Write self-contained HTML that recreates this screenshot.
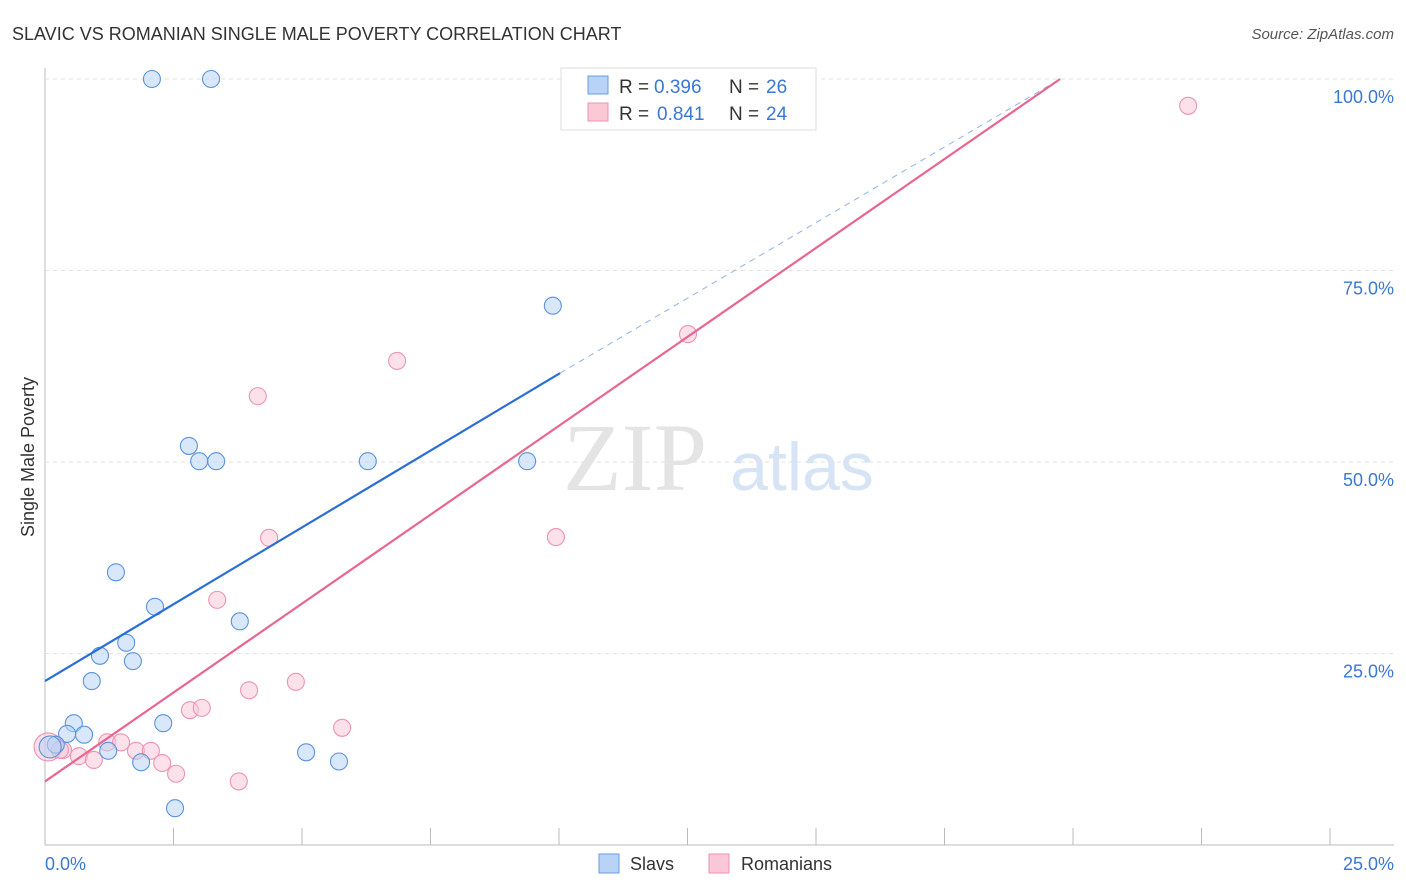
<!DOCTYPE html>
<html><head><meta charset="utf-8"><style>
body{margin:0;background:#fff;font-family:"Liberation Sans",sans-serif;}
svg{display:block}
</style></head><body>
<svg id="chart" width="1406" height="892">
<text x="12" y="40" font-size="18" fill="#333">SLAVIC VS ROMANIAN SINGLE MALE POVERTY CORRELATION CHART</text>
<text x="1394" y="39" font-size="15" fill="#555" font-style="italic" text-anchor="end">Source: ZipAtlas.com</text>
<text x="635" y="490" font-size="96" fill="#e4e4e4" font-family="Liberation Serif,serif" text-anchor="middle">ZIP</text>
<text x="802" y="490" font-size="68" fill="#d6e4f6" text-anchor="middle">atlas</text>
<g id="grid"></g>
<g id="marks"></g>
<text transform="translate(34,457) rotate(-90)" font-size="18" fill="#333" text-anchor="middle">Single Male Poverty</text>
<text x="45" y="870" font-size="18" fill="#3a78d4">0.0%</text>
<text x="1394" y="870" font-size="18" fill="#3a78d4" text-anchor="end">25.0%</text>
<g>
<rect x="561" y="68" width="255" height="62" fill="#fff" stroke="#ddd"/>
<rect x="588" y="76" width="20" height="18" fill="#b8d3f5" stroke="#6a9de0"/>
<rect x="588" y="103" width="20" height="18" fill="#fbc8d8" stroke="#ec93b0"/>
<text x="619" y="93" font-size="19" fill="#333">R =</text><text x="654" y="93" font-size="19" fill="#3a78d4">0.396</text>
<text x="729" y="93" font-size="19" fill="#333">N =</text><text x="766" y="93" font-size="19" fill="#3a78d4">26</text>
<text x="619" y="120" font-size="19" fill="#333">R =</text><text x="657" y="120" font-size="19" fill="#3a78d4">0.841</text>
<text x="729" y="120" font-size="19" fill="#333">N =</text><text x="766" y="120" font-size="19" fill="#3a78d4">24</text>
</g>
<g>
<rect x="599" y="854" width="20" height="19" fill="#b8d3f5" stroke="#6a9de0"/>
<text x="630" y="870" font-size="18" fill="#333">Slavs</text>
<rect x="709" y="854" width="20" height="19" fill="#fbc8d8" stroke="#ec93b0"/>
<text x="741" y="870" font-size="18" fill="#333">Romanians</text>
</g>
</svg>
<script>
const yTicks=[25,50,75,100];
const xTicks=[0,2.5,5,7.5,10,12.5,15,17.5,20,22.5,25];
const slavX=[2.08,3.23,9.88,2.80,3.00,3.33,6.28,9.38,1.38,2.14,3.79,1.58,1.07,1.71,0.91,0.56,2.30,0.43,0.76,0.21,1.23,5.08,1.87,5.72,2.53,0.10];
const slavY=[100,100,70.4,52.1,50.1,50.1,50.1,50.1,35.6,31.1,29.2,26.4,24.7,24.0,21.4,15.9,15.9,14.5,14.4,13.1,12.3,12.1,10.8,10.9,4.8,12.8];
const romX=[22.24,12.51,6.85,4.14,4.36,9.94,3.35,3.97,4.88,5.78,2.82,3.05,1.21,1.48,0.35,0.66,0.95,1.77,2.06,2.28,2.55,3.77,0.06,0.29];
const romY=[96.5,66.7,63.2,58.6,40.1,40.2,32.0,20.2,21.3,15.3,17.6,17.9,13.4,13.4,12.4,11.6,11.1,12.3,12.3,10.7,9.3,8.3,12.8,12.4];
const slavLine=[[0,21.4],[10.02,61.6]], slavDash=[[10.02,61.6],[19.75,100]];
const romLine=[[0,8.3],[19.75,100]];
const X=v=>45+v/25*1285, Y=v=>845-v/100*766;
const NS='http://www.w3.org/2000/svg';
const grid=document.getElementById('grid'), marks=document.getElementById('marks');
function mk(t,a,p){const e=document.createElementNS(NS,t);for(const k in a)e.setAttribute(k,a[k]);p.appendChild(e);return e;}
let ax=mk('line',{x1:45,y1:68,x2:45,y2:845,stroke:'#bbb'},grid);


let bx=mk('line',{x1:45,y1:845,x2:1394,y2:845,stroke:'#bbb'},grid);


yTicks.forEach(t=>{
 let g=mk('line',{x1:45,x2:1394,y1:Y(t),y2:Y(t),stroke:'#e2e2e2','stroke-dasharray':'4,4'},grid);
 
 
 let l=mk('text',{x:1394,y:Y(t)+24,'font-size':18,fill:'#3a78d4','text-anchor':'end'},grid);
 l.textContent=t.toFixed(1)+'%';
 
 
});
xTicks.forEach(t=>{
 let g=mk('line',{x1:X(t),x2:X(t),y1:828,y2:845,stroke:'#bbb'},grid);
 
 
});
function pts(xs,ys,fill,stroke,name,bigIdx,bigR){xs.forEach((x,i)=>{
 const big=(i===bigIdx);
 let c=mk('circle',{cx:X(x),cy:Y(ys[i]),r:big?bigR:8.5,fill:fill,'fill-opacity':0.55,stroke:stroke,'stroke-width':1.1},marks);
 
 
});}
pts(romX,romY,'#fbc8d8','#ec93b0','romanian-point',22,14);
pts(slavX,slavY,'#b8d3f5','#5b93dc','slav-point',25,11);
function line(p,stroke,w,dash,name){let l=mk('line',{x1:X(p[0][0]),y1:Y(p[0][1]),x2:X(p[1][0]),y2:Y(p[1][1]),stroke:stroke,'stroke-width':w},marks);
 if(dash)l.setAttribute('stroke-dasharray',dash);
 
 }
line(slavLine,'#2a6fd6',2.2,null,'slav-trendline');
line(slavDash,'#8fb3e6',1,'6,5','slav-trendline-extension');
line(romLine,'#e8668f',2.2,null,'romanian-trendline');
</script>
</body></html>
